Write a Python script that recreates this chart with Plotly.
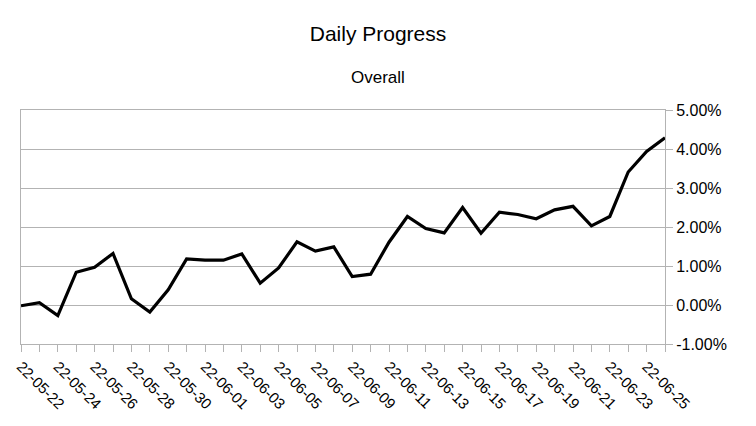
import plotly.graph_objects as go

# daily overall progress, percent
dates = [
    "22-05-22", "22-05-23", "22-05-24", "22-05-25", "22-05-26", "22-05-27",
    "22-05-28", "22-05-29", "22-05-30", "22-05-31", "22-06-01", "22-06-02",
    "22-06-03", "22-06-04", "22-06-05", "22-06-06", "22-06-07", "22-06-08",
    "22-06-09", "22-06-10", "22-06-11", "22-06-12", "22-06-13", "22-06-14",
    "22-06-15", "22-06-16", "22-06-17", "22-06-18", "22-06-19", "22-06-20",
    "22-06-21", "22-06-22", "22-06-23", "22-06-24", "22-06-25", "22-06-26",
]
progress = [
    -0.02, 0.06, -0.27, 0.84, 0.97, 1.32,
    0.16, -0.18, 0.39, 1.18, 1.15, 1.15,
    1.31, 0.56, 0.95, 1.62, 1.38, 1.49,
    0.73, 0.79, 1.61, 2.27, 1.96, 1.85,
    2.50, 1.84, 2.38, 2.32, 2.21, 2.44,
    2.53, 2.03, 2.27, 3.41, 3.94, 4.29,
]
# only every other date gets a label
tick_text = [d if i % 2 == 0 else "" for i, d in enumerate(dates)]
y_ticks = [-1, 0, 1, 2, 3, 4, 5]
y_text = [f"{v:.2f}%" for v in y_ticks]

grid = "#b3b3b3"
font = dict(family="Liberation Sans, Arial, sans-serif", color="black")
W, H = 756, 426
m = dict(l=21, r=91, t=110, b=82)

fig = go.Figure()
fig.add_trace(go.Scatter(x=dates, y=progress, mode="lines",
                         line=dict(color="black", width=3.2), showlegend=False))

fig.update_layout(
    width=W, height=H,
    paper_bgcolor="white", plot_bgcolor="white",
    margin=m,
    font=dict(size=15, **font),
    title=dict(text="Daily Progress", x=0.5, xanchor="center",
               y=1 - 34 / H, yanchor="middle", yref="container",
               font=dict(size=21, **font)),
    annotations=[dict(text="Overall", x=(378 - m["l"]) / (W - m["l"] - m["r"]),
                      xref="paper", xanchor="center",
                      y=(H - 77 - m["b"]) / (H - m["t"] - m["b"]), yref="paper",
                      yanchor="middle", showarrow=False,
                      font=dict(size=17, **font))],
)

fig.update_xaxes(
    type="category", range=[0, len(dates) - 1],
    tickmode="array", tickvals=dates, ticktext=tick_text,
    tickangle=45, ticks="outside", ticklen=7, tickcolor=grid,
    showline=True, linecolor=grid, linewidth=1, mirror=True,
    showgrid=False, tickfont=dict(size=15, **font),
)
fig.update_yaxes(
    side="right", range=[-1, 5],
    tickmode="array", tickvals=y_ticks, ticktext=y_text,
    ticks="outside", ticklen=7, tickcolor=grid,
    showline=True, linecolor=grid, linewidth=1, mirror=True,
    showgrid=True, gridcolor=grid, gridwidth=1, zeroline=False,
    tickfont=dict(size=16, **font),
)

fig.write_html("out.html", config={"displayModeBar": False},
               post_script="document.body.style.margin='0';")
